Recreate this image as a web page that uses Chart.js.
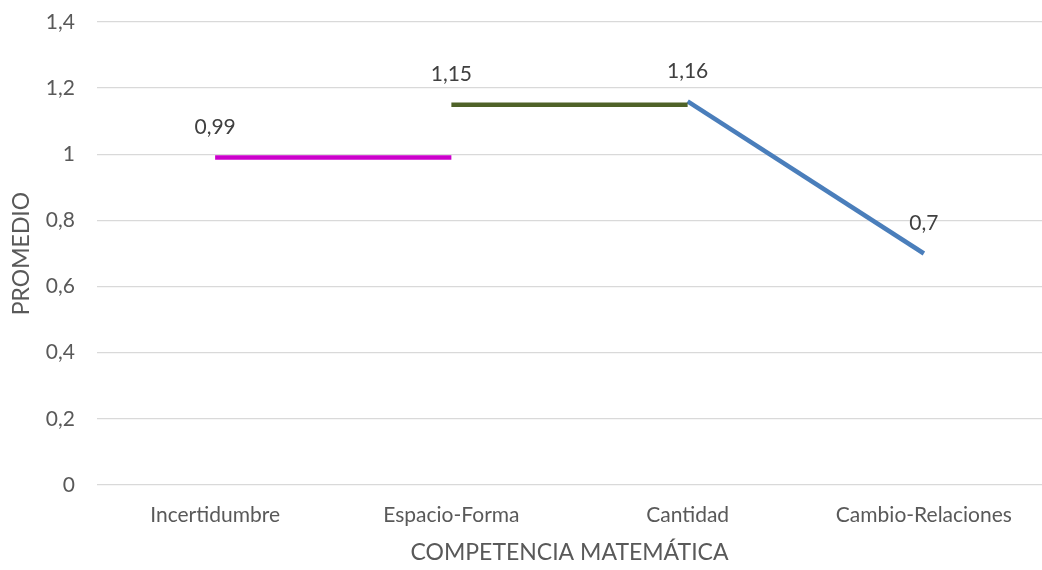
<!DOCTYPE html>
<html>
<head>
<meta charset="utf-8">
<script src="https://cdn.jsdelivr.net/npm/chart.js@4/dist/chart.umd.min.js"></script>
<style>
  html, body { margin: 0; padding: 0; background: #fff; }
  #wrap { width: 1042px; height: 570px; }
</style>
</head>
<body>
<div id="wrap"><canvas id="myChart"></canvas></div>
<script>
const competencias = ['Incertidumbre', 'Espacio-Forma', 'Cantidad', 'Cambio-Relaciones'];
// one segment per series, like the original sheet
const serieIncertidumbre = [0.99, 0.99, null, null];
const serieEspacio = [null, 1.15, 1.15, null];
const serieCantidad = [null, null, 1.16, 0.7];
// value printed above each category
const promedios = [0.99, 1.15, 1.16, 0.7];
const yTicks = [0, 0.2, 0.4, 0.6, 0.8, 1, 1.2, 1.4];

const fontFamily = 'Lato, "Liberation Sans", sans-serif';
const gray = '#595959';

function coma(v) {
    return String(Math.round(v * 100) / 100).replace('.', ',');
}

// draws the value labels above each point
const labelPlugin = {
    id: 'promedioLabels',
    afterDatasetsDraw(chart) {
        const ctx = chart.ctx;
        const xs = chart.scales.x;
        const ys = chart.scales.y;
        ctx.save();
        ctx.font = '21px ' + fontFamily;
        ctx.fillStyle = '#404040';
        ctx.textAlign = 'center';
        ctx.textBaseline = 'middle';
        promedios.forEach((v, i) => {
            ctx.fillText(coma(v), xs.getPixelForValue(i), ys.getPixelForValue(v) - 30);
        });
        ctx.restore();
    }
};

new Chart('myChart', {
    type: 'line',
    data: {
        labels: competencias,
        datasets: [
            { label: 'Incertidumbre', data: serieIncertidumbre, borderColor: '#CC00CC' },
            { label: 'Espacio-Forma', data: serieEspacio, borderColor: '#4F6228' },
            { label: 'Cantidad', data: serieCantidad, borderColor: '#4A7EBB' }
        ]
    },
    options: {
        responsive: true,
        maintainAspectRatio: false,
        animation: false,
        spanGaps: false,
        layout: { padding: { top: 22, right: 0, left: 0, bottom: 0 } },
        elements: {
            line: { borderWidth: 4.5, tension: 0, borderCapStyle: 'butt' },
            point: { radius: 0, hoverRadius: 0 }
        },
        plugins: {
            legend: { display: false },
            tooltip: { enabled: false }
        },
        scales: {
            x: {
                offset: true,
                grid: { display: false },
                border: { display: false },
                ticks: { color: gray, font: { family: fontFamily, size: 21 }, padding: 10 },
                title: {
                    display: true,
                    text: 'COMPETENCIA MATEMÁTICA',
                    color: gray,
                    font: { family: fontFamily, size: 23 },
                    padding: { top: 4 }
                },
                afterFit(scale) {
                    scale.height = 85;
                    scale.paddingLeft = 0;
                    scale.paddingRight = 0;
                }
            },
            y: {
                min: 0,
                max: 1.4,
                afterBuildTicks(scale) { scale.ticks = yTicks.map(v => ({ value: v })); },
                grid: { color: '#d9d9d9', lineWidth: 1.3, drawTicks: false },
                border: { display: false },
                ticks: {
                    color: gray,
                    font: { family: fontFamily, size: 21 },
                    padding: 22,
                    callback: v => coma(v)
                },
                title: {
                    display: true,
                    text: 'PROMEDIO',
                    color: gray,
                    font: { family: fontFamily, size: 23 },
                    padding: { top: 8, bottom: 4 }
                },
                afterFit(scale) {
                    scale.width = 97;
                    scale.paddingTop = 0;
                    scale.paddingBottom = 0;
                }
            }
        }
    },
    plugins: [labelPlugin]
});
</script>
</body>
</html>
